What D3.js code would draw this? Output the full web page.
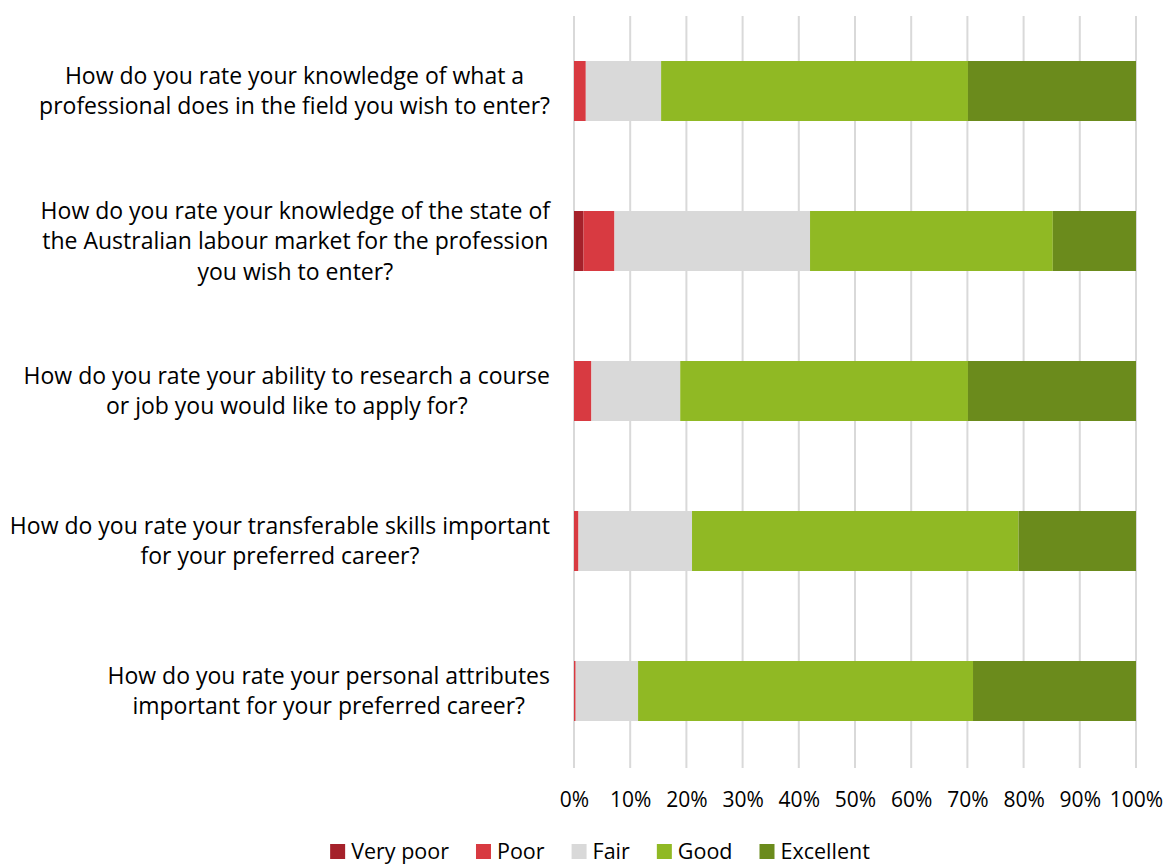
<!DOCTYPE html>
<html>
<head>
<meta charset="utf-8">
<script src="https://cdn.jsdelivr.net/npm/d3@7"></script>
<style>
  body { margin: 0; background: #fff; }
  text { font-family: "Open Sans", "Noto Sans", sans-serif; fill: #000; }
  .qlabel { font-size: 23px; }
  .tick text { font-size: 21px; }
  .legend { font-size: 21.5px; }
</style>
</head>
<body>
<svg id="chart" width="1171" height="866"></svg>
<script>
// questions, top to bottom (each entry = wrapped lines)
const questions = [
  ["How do you rate your knowledge of what a", "professional does in the field you wish to enter?"],
  ["How do you rate your knowledge of the state of", "the Australian labour market for the profession", "you wish to enter?"],
  ["How do you rate your ability to research a course", "or job you would like to apply for?"],
  ["How do you rate your transferable skills important", "for your preferred career?"],
  ["How do you rate your personal attributes", "important for your preferred career?"]
]
const ratings = ["Very poor", "Poor", "Fair", "Good", "Excellent"]
const colors = ["#a5212a", "#d83a41", "#d9d9d9", "#90b924", "#6b8b1c"]

// percentages per rating, one value per question
const veryPoor  = [0.0, 1.7, 0.0, 0.0, 0.0]
const poor      = [2.1, 5.5, 3.1, 0.8, 0.3]
const fair      = [13.4, 34.8, 15.8, 20.2, 11.1]
const good      = [54.6, 43.2, 51.2, 58.1, 59.6]
const excellent = [29.9, 14.8, 29.9, 20.9, 29.0]
const xTicks = [0, 10, 20, 30, 40, 50, 60, 70, 80, 90, 100]

const series = [veryPoor, poor, fair, good, excellent]
const rows = questions.map(function (q, i) {
    let r = {id: i}
    ratings.forEach(function (name, k) { r[name] = series[k][i] })
    return r
})

const svg = d3.select("#chart")
const xScale = d3.scaleLinear().domain([0, 100]).range([574, 1136])
const yScale = d3.scaleBand().domain(d3.range(questions.length))
                .range([16, 766]).paddingInner(0.6).paddingOuter(0.3)

// vertical gridlines
svg.append("g").selectAll("line")
    .data(xTicks)
    .enter()
    .append("line")
    .attr("x1", d => xScale(d)).attr("x2", d => xScale(d))
    .attr("y1", 16).attr("y2", 768)
    .attr("stroke", "#d9d9d9")
    .attr("stroke-width", 2)

// stacked bars
const stacked = d3.stack().keys(ratings)(rows)
svg.append("g").selectAll("g")
    .data(stacked)
    .enter()
    .append("g")
    .attr("fill", (d, i) => colors[i])
    .selectAll("rect")
    .data(d => d)
    .enter()
    .append("rect")
    .attr("x", d => xScale(d[0]))
    .attr("width", d => xScale(d[1]) - xScale(d[0]))
    .attr("y", d => yScale(d.data.id))
    .attr("height", yScale.bandwidth())

// x axis (labels only)
let x_axis = d3.axisBottom(xScale).tickValues(xTicks).tickFormat(d => d + "%").tickSize(0).tickPadding(0)
let xg = svg.append("g").attr("transform", `translate(0, 792)`).call(x_axis)
xg.select(".domain").remove()
xg.selectAll("text").attr("font-family", null).attr("font-size", null).attr("dy", "0.71em")

// question labels: block right edge at 550, lines centred inside the block
const lineH = 30.5
questions.forEach(function (lines, i) {
    let g = svg.append("g")
    let cy = yScale(i) + yScale.bandwidth() / 2
    let texts = lines.map(function (l, j) {
        return g.append("text").attr("class", "qlabel")
            .attr("text-anchor", "middle")
            .attr("y", cy + (j - (lines.length - 1) / 2) * lineH)
            .attr("dy", "0.35em")
            .text(l)
    })
    let maxW = d3.max(texts, t => t.node().getComputedTextLength())
    texts.forEach(t => t.attr("x", 550 - maxW / 2))
})

// legend, centred under the chart
let lg = svg.append("g")
let cursor = 0
ratings.forEach(function (d, i) {
    let item = lg.append("g").attr("transform", `translate(${cursor}, 0)`)
    item.append("rect").attr("x", 0).attr("y", -7).attr("width", 15).attr("height", 15).attr("fill", colors[i])
    let t = item.append("text").attr("class", "legend").attr("x", 21).attr("dy", "0.35em").text(d)
    cursor += 21 + t.node().getComputedTextLength() + 27
})
let total = cursor - 27
lg.attr("transform", `translate(${600 - total / 2}, 851)`)
</script>
</body>
</html>
